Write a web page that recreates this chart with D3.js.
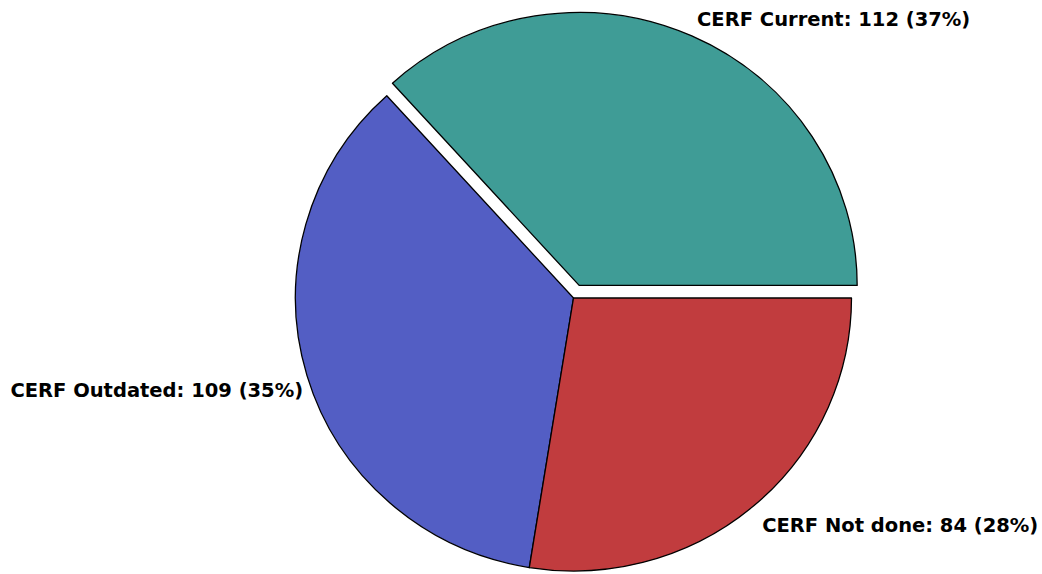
<!DOCTYPE html>
<html>
<head>
<meta charset="utf-8">
<script src="https://cdn.jsdelivr.net/npm/d3@7"></script>
<style>
html,body{margin:0;padding:0;background:#fff;}
svg{display:block;}
text{font-family:"DejaVu Sans",Verdana,sans-serif;font-weight:bold;font-size:19.5px;fill:#000;}
</style>
</head>
<body>
<svg id="chart" width="1042" height="574"></svg>
<script>
const categories = ["CERF Current", "CERF Outdated", "CERF Not done"];
const values = [112, 109, 84];
const percents = [37, 35, 28];
const colors = ["#3f9c96", "#535ec4", "#c13c3e"];
const explode = [14, 0, 0];

const W = 1042, H = 574;
const cx = 573.5, cy = 298, r = 278, ry = 0.982;
const svg = d3.select("#chart");

const pie = d3.pie().sort(null)
  .startAngle(Math.PI / 2 + 2 * Math.PI)
  .endAngle(Math.PI / 2);
const arcs = pie(values);
const arc = d3.arc().innerRadius(0).outerRadius(r);

const g = svg.append("g").attr("transform", `translate(${cx},${cy}) scale(1,${ry})`);

g.selectAll("path").data(arcs).join("path")
  .attr("d", arc)
  .attr("transform", (d, i) => {
    const m = (d.startAngle + d.endAngle) / 2;
    return `translate(${explode[i] * Math.sin(m)},${-explode[i] * Math.cos(m)})`;
  })
  .attr("fill", (d, i) => colors[i])
  .attr("stroke", "#000")
  .attr("stroke-width", 1.3)
  .attr("vector-effect", "non-scaling-stroke")
  .attr("stroke-linejoin", "round");

const labelR = [291, 282, 291];
const labelNudge = [-5, 13, 10];
svg.selectAll("text.lbl").data(arcs).join("text")
  .attr("class", "lbl")
  .each(function (d, i) {
    const m = (d.startAngle + d.endAngle) / 2;
    const R = labelR[i] + explode[i];
    const x = cx + R * Math.sin(m);
    const y = cy - R * Math.cos(m) * ry + labelNudge[i];
    const right = Math.sin(m) >= 0;
    d3.select(this)
      .attr("x", x).attr("y", y)
      .attr("dy", "0.35em")
      .attr("text-anchor", right ? "start" : "end")
      .text(`${categories[i]}: ${values[i]} (${percents[i]}%)`);
  });
</script>
</body>
</html>
